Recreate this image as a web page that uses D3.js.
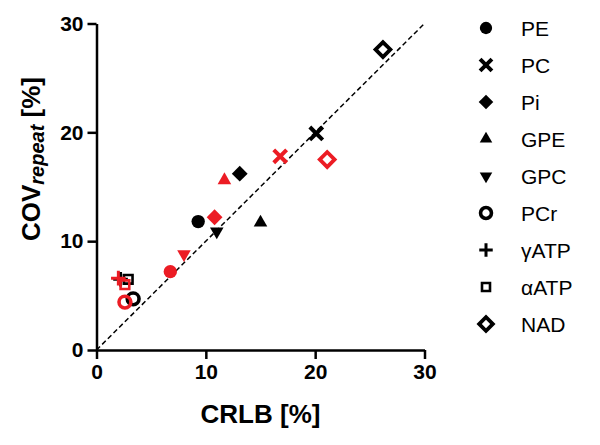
<!DOCTYPE html>
<html><head><meta charset="utf-8">
<script src="https://cdn.jsdelivr.net/npm/d3@7"></script>
<style>body{margin:0;background:#fff}svg{display:block}text{font-family:"Liberation Sans",Arial,sans-serif}</style>
</head><body><svg id="c" width="600" height="445"></svg>
<script>
const metabolites = ["PE","PC","Pi","GPE","GPC","PCr","γATP","αATP","NAD"];
const crlbBlack = [9.3, 20.1, 13.1, 15.0, 11.0, 3.35, 2.2, 2.9, 26.2];
const covBlack  = [11.8, 19.9, 16.2, 11.7, 10.9, 4.7, 6.5, 6.5, 27.6];
const crlbRed   = [6.75, 16.8, 10.8, 11.7, 8.0, 2.6, 2.0, 2.6, 21.1];
const covRed    = [7.2, 17.8, 12.2, 15.6, 8.8, 4.4, 6.6, 6.0, 17.5];
const xTicks = [0, 10, 20, 30];
const yTicks = [0, 10, 20, 30];
const identityLine = [0, 30];

const RED = "#ec1c24";
const svg = d3.select("#c");
const x = d3.scaleLinear().domain([0, 30]).range([96.5, 424.5]);
const y = d3.scaleLinear().domain([0, 30]).range([350, 23.5]);

function markerStyle(i) {
  switch (i) {
    case 0: return {type: d3.symbolCircle, size: 140, rot: 0, filled: true};
    case 1: return {type: d3.symbolTimes, size: 110, rot: 0, filled: false, sw: 4};
    case 2: return {type: d3.symbolSquare, size: 125, rot: 45, filled: true};
    case 3: return {type: d3.symbolTriangle, size: 80, rot: 0, filled: true};
    case 4: return {type: d3.symbolTriangle, size: 80, rot: 180, filled: true};
    case 5: return {type: d3.symbolCircle, size: 110, rot: 0, filled: false, sw: 3.6};
    case 6: return {type: d3.symbolPlus, size: 72, rot: 0, filled: false, sw: 3};
    case 7: return {type: d3.symbolSquare, size: 75, rot: 0, filled: false, sw: 2.6};
    case 8: return {type: d3.symbolSquare, size: 110, rot: 45, filled: false, sw: 3.8};
  }
}
function drawMarker(g, i, cx, cy, color, scale) {
  const s = markerStyle(i);
  const p = g.append("path")
    .attr("d", d3.symbol().type(s.type).size(s.size * (scale || 1))())
    .attr("transform", `translate(${cx},${cy}) rotate(${s.rot})`);
  if (s.filled) p.attr("fill", color).attr("stroke", "none");
  else p.attr("fill", "none").attr("stroke", color).attr("stroke-width", s.sw)
        .attr("stroke-linejoin", "miter");
}

svg.append("line")
  .attr("x1", x(identityLine[0])).attr("y1", y(identityLine[0]))
  .attr("x2", x(identityLine[1])).attr("y2", y(identityLine[1]))
  .attr("stroke", "#000").attr("stroke-width", 1.5).attr("stroke-dasharray", "5,3");

const xAxis = svg.append("g").attr("transform", `translate(0,${y(0)})`)
  .call(d3.axisBottom(x).tickValues(xTicks).tickSize(9).tickSizeOuter(0).tickPadding(4));
const yAxis = svg.append("g").attr("transform", `translate(${x(0)},0)`)
  .call(d3.axisLeft(y).tickValues(yTicks).tickSize(9).tickSizeOuter(0).tickPadding(4));
[xAxis, yAxis].forEach(a => {
  a.select(".domain").attr("stroke", "#000").attr("stroke-width", 2.5);
  a.selectAll(".tick line").attr("stroke", "#000").attr("stroke-width", 2.5);
  a.selectAll(".tick text").attr("fill", "#000")
    .style("font-size", "21px").style("font-weight", "bold")
    .style("font-family", "'Liberation Sans', Arial, sans-serif");
});
xAxis.selectAll(".tick text").attr("dy", "0.75em");

svg.append("text").attr("x", (x(0) + x(30)) / 2).attr("y", 423)
  .attr("text-anchor", "middle").style("font-size", "26px").style("font-weight", "bold")
  .text("CRLB [%]");
const yt = svg.append("text").attr("transform", "translate(40,159) rotate(-90)")
  .attr("text-anchor", "middle").style("font-size", "26px").style("font-weight", "bold");
yt.append("tspan").text("COV");
yt.append("tspan").attr("dy", 4).style("font-size", "20px").style("font-style", "italic").text("repeat");
yt.append("tspan").attr("dy", -4).text(" [%]");

const pts = svg.append("g");
metabolites.forEach((m, i) => drawMarker(pts, i, x(crlbBlack[i]), y(covBlack[i]), "#000"));
metabolites.forEach((m, i) => drawMarker(pts, i, x(crlbRed[i]), y(covRed[i]), RED));

const lg = svg.append("g");
metabolites.forEach((m, i) => {
  const ly = 28 + i * 37;
  drawMarker(lg, i, 486, ly, "#000", 0.85);
  lg.append("text").attr("x", 521).attr("y", ly).attr("dy", "0.36em")
    .style("font-size", "21px").attr("fill", "#000").text(m);
});
</script></body></html>
